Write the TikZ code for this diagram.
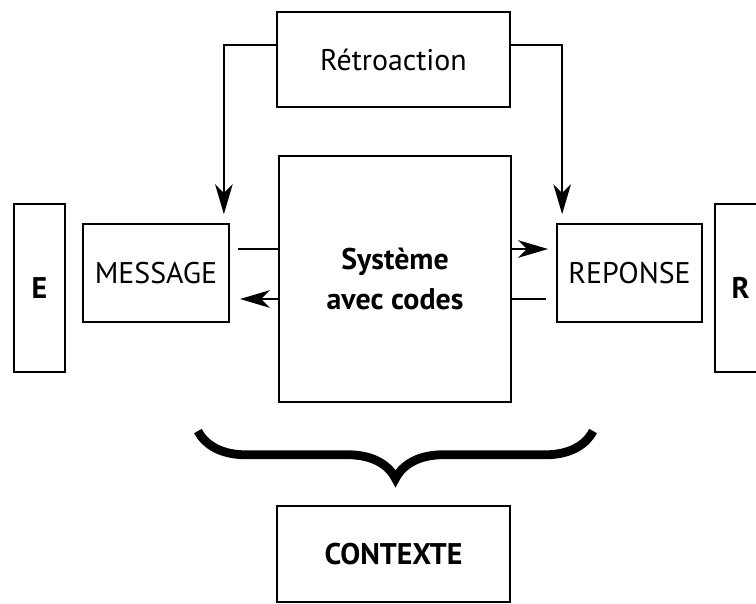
\documentclass[tikz,border=0pt]{standalone}
\usepackage{fontspec}
\setmainfont{PT Sans}
\usetikzlibrary{calc}
\usetikzlibrary{positioning}
\usetikzlibrary{arrows.meta}
\usetikzlibrary{decorations.pathreplacing}

\begin{document}
\begin{tikzpicture}[x=0.02cm, y=-0.02cm,
		>={Stealth[length=17pt, width=10pt, inset=5pt]},
		box/.style={draw, line width=1pt, inner sep=0pt, align=center, font=\fontsize{17}{23}\selectfont},
		arr/.style={line width=1pt, ->},
		ln/.style={line width=1pt}]
				\useasboundingbox (0,0) rectangle (756,603);
				
				\node[box, minimum width=1.02cm, minimum height=3.36cm] (E) at (39.5,288) {\bfseries E};
				\node[box, minimum width=2.92cm, minimum height=1.96cm] (msg) at (156,273) {MESSAGE};
				\node[box, minimum width=4.64cm, minimum height=4.92cm] (sys) at (395,279) {\bfseries Système\\\bfseries avec codes};
				\node[box, minimum width=2.9cm, minimum height=1.96cm] (rep) at (629.5,273) {REPONSE};
				\node[box, minimum width=1.02cm, minimum height=3.36cm] (R) at (740.5,288) {\bfseries R};
				\node[box, minimum width=4.66cm, minimum height=1.9cm] (retro) at (393.5,59.5) {Rétroaction};
				\node[box, minimum width=4.66cm, minimum height=1.92cm] (ctx) at (393.5,554) {\bfseries CONTEXTE};
				
				% retroaction
				\draw[arr, shorten >=0.18cm] ([yshift=0.29cm]retro.west) -| ([xshift=-0.12cm]msg.north east);
				\draw[arr, shorten >=0.18cm] ([yshift=0.29cm]retro.east) -| ([xshift=0.12cm]rep.north west);
				
				% message <-> systeme <-> reponse
				\coordinate (mi) at (238,249);
				\coordinate (mo) at (240,299);
				\coordinate (ri) at (548,249);
				\coordinate (ro) at (546,299);
				\draw[ln] (mi) -- (mi -| sys.west);
				\draw[arr] (mo -| sys.west) -- (mo);
				\draw[arr] (ri -| sys.east) -- (ri);
				\draw[ln] (ro) -- (ro -| sys.east);
				
				% contexte
				\draw[line width=5pt, decorate, decoration={brace, mirror, amplitude=0.95cm}] (198,431) -- (593,431);
\end{tikzpicture}
\end{document}
